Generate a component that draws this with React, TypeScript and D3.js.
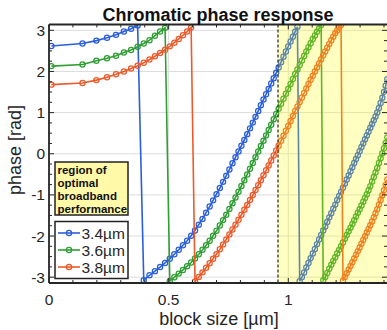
import React from "react";
import * as d3 from "d3";

// block size samples [µm]
const blockSize = [0.01, 0.14, 0.198, 0.2425, 0.28, 0.313, 0.343, 0.3704, 0.396, 0.42, 0.4427, 0.4643, 0.485, 0.5048, 0.5238, 0.5422, 0.56, 0.5772, 0.594, 0.6102, 0.6261, 0.6416, 0.6567, 0.6714, 0.6859, 0.7, 0.7139, 0.7275, 0.7408, 0.7539, 0.7668, 0.7795, 0.792, 0.8042, 0.8163, 0.8283, 0.84, 0.8516, 0.863, 0.8743, 0.8854, 0.8964, 0.9073, 0.918, 0.9287, 0.9391, 0.9495, 0.9598, 0.9699, 0.98, 0.99, 0.9998, 1.0096, 1.0192, 1.0288, 1.0383, 1.0477, 1.057, 1.0662, 1.0754, 1.0844, 1.0934, 1.1024, 1.1112, 1.12, 1.1287, 1.1374, 1.146, 1.1545, 1.1629, 1.1713, 1.1797, 1.1879, 1.1962, 1.2043, 1.2124, 1.2205, 1.2285, 1.2364, 1.2443, 1.2522, 1.26, 1.2678, 1.2755, 1.2831, 1.2907, 1.2983, 1.3058, 1.3133, 1.3208, 1.3282, 1.3355, 1.3428, 1.3501, 1.3574, 1.3646, 1.3717, 1.3788, 1.3859, 1.393, 1.4, 1.407, 1.4139];

// unwrapped phase [rad] (displayed wrapped to [-pi, pi])
const phase34 = [2.62, 2.68, 2.75, 2.82, 2.89, 2.97, 3.04, 3.12, 3.21, 3.33, 3.43, 3.53, 3.63, 3.73, 3.84, 3.95, 4.06, 4.17, 4.29, 4.42, 4.56, 4.70, 4.85, 5.00, 5.15, 5.30, 5.45, 5.60, 5.75, 5.90, 6.05, 6.20, 6.34, 6.48, 6.62, 6.76, 6.90, 7.04, 7.18, 7.32, 7.46, 7.60, 7.73, 7.86, 7.99, 8.12, 8.25, 8.38, 8.51, 8.64, 8.77, 8.89, 9.01, 9.13, 9.25, 9.37, 9.47, 9.57, 9.68, 9.80, 9.91, 10.03, 10.14, 10.25, 10.37, 10.48, 10.59, 10.70, 10.80, 10.91, 11.02, 11.12, 11.23, 11.33, 11.44, 11.54, 11.64, 11.74, 11.84, 11.94, 12.04, 12.14, 12.24, 12.34, 12.44, 12.53, 12.63, 12.73, 12.82, 12.92, 13.01, 13.10, 13.20, 13.29, 13.38, 13.47, 13.57, 13.68, 13.80, 13.93, 14.07, 14.22, 14.38];
const phase36 = [2.13, 2.17, 2.26, 2.32, 2.38, 2.46, 2.52, 2.60, 2.68, 2.76, 2.87, 2.97, 3.06, 3.19, 3.28, 3.37, 3.46, 3.55, 3.64, 3.74, 3.84, 3.95, 4.06, 4.17, 4.29, 4.41, 4.54, 4.67, 4.80, 4.94, 5.08, 5.22, 5.36, 5.50, 5.64, 5.78, 5.92, 6.06, 6.20, 6.34, 6.47, 6.60, 6.73, 6.86, 6.99, 7.12, 7.25, 7.38, 7.50, 7.62, 7.74, 7.86, 7.98, 8.10, 8.22, 8.33, 8.44, 8.55, 8.66, 8.77, 8.87, 8.97, 9.07, 9.16, 9.25, 9.33, 9.41, 9.49, 9.57, 9.67, 9.77, 9.87, 9.96, 10.05, 10.14, 10.23, 10.32, 10.41, 10.50, 10.59, 10.68, 10.77, 10.86, 10.95, 11.04, 11.13, 11.22, 11.31, 11.40, 11.49, 11.58, 11.68, 11.78, 11.89, 12.00, 12.11, 12.22, 12.34, 12.46, 12.58, 12.70, 12.83, 12.96];
const phase38 = [1.68, 1.72, 1.79, 1.86, 1.93, 2.00, 2.07, 2.14, 2.21, 2.29, 2.37, 2.45, 2.53, 2.61, 2.70, 2.79, 2.88, 2.97, 3.07, 3.18, 3.29, 3.40, 3.51, 3.62, 3.73, 3.84, 3.96, 4.08, 4.20, 4.32, 4.44, 4.56, 4.68, 4.80, 4.92, 5.04, 5.16, 5.28, 5.40, 5.52, 5.64, 5.76, 5.88, 6.00, 6.12, 6.24, 6.36, 6.48, 6.60, 6.72, 6.84, 6.96, 7.08, 7.20, 7.32, 7.43, 7.54, 7.65, 7.76, 7.87, 7.98, 8.08, 8.18, 8.28, 8.38, 8.48, 8.58, 8.68, 8.77, 8.86, 8.95, 9.04, 9.13, 9.21, 9.28, 9.35, 9.41, 9.48, 9.57, 9.66, 9.75, 9.84, 9.93, 10.02, 10.11, 10.20, 10.29, 10.38, 10.47, 10.56, 10.65, 10.74, 10.83, 10.92, 11.02, 11.12, 11.22, 11.33, 11.44, 11.56, 11.68, 11.81, 11.94];

const seriesLabels = ["3.4µm", "3.6µm", "3.8µm"];
const seriesColors = ["#2b5fd9", "#2f9e33", "#ec5a2a"];
const yTicks = [-3, -2, -1, 0, 1, 2, 3];
const yTickLabels = ["-3", "-2", "-1", "0", "1", "2", "3"];
const xTicks = [0, 0.5, 1];
const xTickLabels = ["0", "0.5", "1"];
const regionStart = 0.957;
const regionText = ["region of", "optimal", "broadband", "performance"];

const FONT = "'Liberation Sans', Arial, Helvetica, sans-serif";

export default function App() {
  const W = 387, H = 330;
  const left = 49, right = 389, top = 24.5, bottom = 283;
  const x = d3.scaleLinear().domain([0, 1.4]).range([49, 384]);
  const y = d3.scaleLinear().domain([-Math.PI, Math.PI]).range([bottom, top]);
  const TWO_PI = 2 * Math.PI;
  const wrap = (p: number) => ((((p + Math.PI) % TWO_PI) + TWO_PI) % TWO_PI) - Math.PI;

  const series = [phase34, phase36, phase38].map((ph, i) => ({
    color: seriesColors[i],
    label: seriesLabels[i],
    pts: blockSize.map((b, j) => [b, wrap(ph[j])] as [number, number]),
  }));

  const line = d3.line<[number, number]>().x((d) => x(d[0])).y((d) => y(d[1]));

  const xMinor = d3.range(0, 15).map((i) => i / 10).filter((v) => Math.abs(v * 2 - Math.round(v * 2)) > 1e-6);
  const yMinor = d3.range(-12, 13).map((i) => i / 4).filter((v) => Math.abs(v - Math.round(v)) > 1e-6);
  const axisColor = "#262626";
  const majorLen = 5, minorLen = 3;

  return (
    <svg width={W} height={H} style={{ position: "absolute", left: 0, top: 0, background: "#fff" }} fontFamily={FONT}>
      <defs>
        <clipPath id="plotClip">
          <rect x={left} y={top} width={right - left} height={bottom - top} />
        </clipPath>
      </defs>
      <rect x={0} y={0} width={W} height={H} fill="#fff" />
      {/* grid */}
      <g stroke="#dcdcdc" strokeWidth={1}>
        {yTicks.map((t) => (
          <line key={"gy" + t} x1={left} x2={right} y1={y(t)} y2={y(t)} />
        ))}
        {xTicks.map((t) => (
          <line key={"gx" + t} x1={x(t)} x2={x(t)} y1={top} y2={bottom} />
        ))}
      </g>
      {/* data */}
      <g clipPath="url(#plotClip)">
        {series.map((s, i) => (
          <g key={"s" + i}>
            <path d={line(s.pts) || ""} fill="none" stroke={s.color} strokeWidth={1.6} />
            {s.pts.map((p, j) => (
              <circle key={j} cx={x(p[0])} cy={y(p[1])} r={2.6} fill="none" stroke={s.color} strokeWidth={1.25} />
            ))}
          </g>
        ))}
        {/* optimal region */}
        <rect x={x(regionStart)} y={top} width={right - x(regionStart)} height={bottom - top} fill="#ffff00" opacity={0.24} />
        <line x1={x(regionStart)} x2={x(regionStart)} y1={top} y2={bottom} stroke="#333" strokeWidth={1.3} strokeDasharray="3 2" />
      </g>
      {/* axes */}
      <g stroke={axisColor} strokeWidth={1.8} fill="none">
        <line x1={left} x2={right} y1={bottom} y2={bottom} />
        <line x1={left} x2={right} y1={top} y2={top} />
        <line x1={left} x2={left} y1={top} y2={bottom} />
      </g>
      <g stroke={axisColor} strokeWidth={1}>
        {xTicks.map((t) => (
          <g key={"xt" + t}>
            <line x1={x(t)} x2={x(t)} y1={bottom} y2={bottom - majorLen} />
            <line x1={x(t)} x2={x(t)} y1={top} y2={top + majorLen} />
          </g>
        ))}
        {xMinor.map((t) => (
          <g key={"xm" + t}>
            <line x1={x(t)} x2={x(t)} y1={bottom} y2={bottom - minorLen} />
            <line x1={x(t)} x2={x(t)} y1={top} y2={top + minorLen} />
          </g>
        ))}
        {yTicks.map((t) => (
          <g key={"yt" + t}>
            <line x1={left} x2={left + majorLen} y1={y(t)} y2={y(t)} />
            <line x1={right} x2={right - majorLen - 2} y1={y(t)} y2={y(t)} />
          </g>
        ))}
        {yMinor.map((t) => (
          <g key={"ym" + t}>
            <line x1={left} x2={left + minorLen} y1={y(t)} y2={y(t)} />
            <line x1={right} x2={right - minorLen - 2} y1={y(t)} y2={y(t)} />
          </g>
        ))}
      </g>
      {/* tick labels */}
      <g fontSize={15.5} fill={axisColor}>
        {yTicks.map((t, i) => (
          <text key={"yl" + t} x={45} y={y(t) + 5.5} textAnchor="end">{yTickLabels[i]}</text>
        ))}
        {xTicks.map((t, i) => (
          <text key={"xl" + t} x={x(t)} y={305} textAnchor="middle">{xTickLabels[i]}</text>
        ))}
      </g>
      {/* labels */}
      <text x={218} y={20.5} textAnchor="middle" fontSize={18} fontWeight="bold" fill="#111">Chromatic phase response</text>
      <text x={219} y={325} textAnchor="middle" fontSize={18} fill={axisColor}>block size [µm]</text>
      <text transform="translate(21,150) rotate(-90)" textAnchor="middle" fontSize={18} fill={axisColor}>phase [rad]</text>
      {/* legend: region box */}
      <rect x={55} y={162} width={73} height={53} fill="#fff9a8" stroke="#222" strokeWidth={1.5} />
      {regionText.map((t, i) => (
        <text key={"rt" + i} x={57.5} y={173.5 + i * 13} fontSize={11.5} fontWeight="bold" fill="#111">{t}</text>
      ))}
      {/* legend: series */}
      <rect x={55} y={221.5} width={73} height={57} fill="#fff" stroke="#222" strokeWidth={1.5} />
      {series.map((s, i) => {
        const cy = 233 + i * 17;
        return (
          <g key={"lg" + i}>
            <line x1={58} x2={80} y1={cy} y2={cy} stroke={s.color} strokeWidth={1.6} />
            <circle cx={69} cy={cy} r={2.6} fill="none" stroke={s.color} strokeWidth={1.3} />
            <text x={81.5} y={cy + 5.5} fontSize={15.5} fill={axisColor}>{s.label}</text>
          </g>
        );
      })}
    </svg>
  );
}
